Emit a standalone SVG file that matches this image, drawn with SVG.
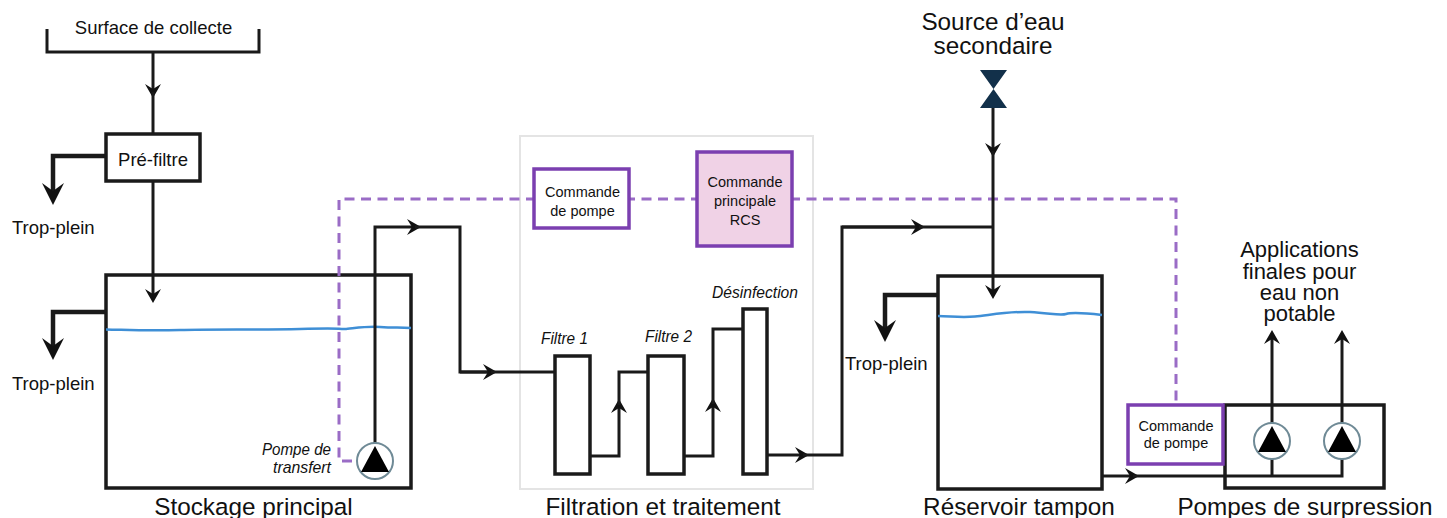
<svg xmlns="http://www.w3.org/2000/svg" width="1447" height="518" viewBox="0 0 1447 518">
<style>
text{font-family:"Liberation Sans",Arial,sans-serif;fill:#111}
.t{font-size:18.5px}
.c{font-size:14.500px;text-anchor:middle}
.i{font-size:17px;font-style:italic}
.h{font-size:24.300px;text-anchor:middle}
.a{font-size:22px;text-anchor:middle}
.b{fill:#fff;stroke:#1a1a1a;stroke-width:3.5}
.p{fill:none;stroke:#1a1a1a;stroke-width:3}
.o{fill:none;stroke:#1a1a1a;stroke-width:4.5}
.pc{fill:#fff;stroke:#7b3fb0;stroke-width:3.5}
.w{fill:none;stroke:#3f8fd6;stroke-width:2.5}
.d{fill:none;stroke:#9a6cc6;stroke-width:3;stroke-dasharray:10 6.5}
.ae{marker-end:url(#small)}
.al{marker-end:url(#large)}
</style>
<defs>
<marker id="small" markerUnits="userSpaceOnUse" markerWidth="20" markerHeight="20" refX="9" refY="10" orient="auto" viewBox="0 0 20 20"><path d="M1,2 L15,10 L1,18 L6,10 Z" fill="#111"/></marker>
<marker id="large" markerUnits="userSpaceOnUse" markerWidth="28" markerHeight="26" refX="14" refY="13" orient="auto" viewBox="0 0 28 26"><path d="M4,2 L26,13 L4,24 L12,13 Z" fill="#111"/></marker>
<g id="pump"><circle r="18" fill="#fff" stroke="#6f8a96" stroke-width="2"/><path d="M0,-15 L14,11 H-14 Z" fill="#000"/></g>
</defs>

<g id="filtration-zone"><rect x="520" y="136" width="293" height="353" fill="#fff" stroke="#e4e4e4" stroke-width="2"/></g>

<g id="tanks">
<g id="stockage"><rect class="b" x="106" y="275" width="305" height="213"/></g>
<g id="reservoir"><rect class="b" x="938" y="276" width="164" height="213"/></g>
<g id="surpression"><rect class="b" x="1225" y="405" width="159" height="83"/></g>
</g>

<g id="connectors">
<path class="d" d="M352,461 H339 V199 H1176 V404"/>
<path class="w" d="M106,329.500 C130,330 150,331 180,330 S260,330 300,329 S340,329 345,329 S365,326 380,327 S400,327 411,328"/>
<path class="w" d="M938,316 C950,316 960,318 975,316.500 S1010,311 1030,312 S1060,316 1066,314 S1085,313 1102,315"/>
<path class="p" d="M47,29 V52 H259 V29"/>
<path class="p ae" d="M153,52 V92"/><path class="p" d="M153,92 V134"/>
<path class="p ae" d="M153,181 V297"/>
<path class="o al" d="M106,156 H53 V193"/>
<path class="o al" d="M106,312 H53 V348"/>
<path class="p ae" d="M375,445 V227 H415"/><path class="p" d="M415,227 H460 V372 H490"/>
<path class="p ae" d="M460,372 H491"/><path class="p" d="M491,372 H555"/>
<path class="p ae" d="M590,456 H619 V405"/><path class="p" d="M619,405 V372 H648"/>
<path class="p ae" d="M684,456 H713 V404"/><path class="p" d="M713,404 V329 H743"/>
<path class="p ae" d="M767,455 H803"/><path class="p" d="M803,455 H842 V227 H919"/>
<path class="p ae" d="M842,227 H919"/><path class="p" d="M919,227 H993"/>
<path class="p ae" d="M993,107 V151"/><path class="p ae" d="M993,151 V293"/>
<path class="o al" d="M938,295 H885 V330"/>
<path class="p ae" d="M1102,476 H1133"/><path class="p" d="M1133,476 H1342 V458"/>
<path class="p" d="M1272,476 V458"/>
<path class="p ae" d="M1272,424 V336"/>
<path class="p ae" d="M1342,424 V336"/>
</g>

<g id="surface"><text class="t" x="153.500" y="34" text-anchor="middle">Surface de collecte</text></g>
<g id="prefiltre"><rect class="b" x="106" y="134" width="94" height="47"/><text class="t" x="153" y="166" text-anchor="middle">Pré-filtre</text></g>
<g id="overflow-labels">
<text class="t" x="12" y="234">Trop-plein</text>
<text class="t" x="12" y="390">Trop-plein</text>
<text class="t" x="845" y="370">Trop-plein</text>
</g>
<g id="pompe-transfert"><use href="#pump" x="375" y="461"/>
<text class="i" x="262" y="455" textLength="69" lengthAdjust="spacingAndGlyphs">Pompe de</text><text class="i" x="273" y="473" textLength="58" lengthAdjust="spacingAndGlyphs">transfert</text></g>
<g id="commande-pompe-1"><rect class="pc" x="534" y="169" width="95" height="59"/><text class="c" x="582.500" y="197">Commande</text><text class="c" x="582.500" y="216">de pompe</text></g>
<g id="commande-rcs"><rect x="697" y="152" width="95" height="94" fill="#f0d2e6" stroke="#7b3fb0" stroke-width="3.500"/><text class="c" x="745" y="187">Commande</text><text class="c" x="745" y="206">principale</text><text class="c" x="745" y="225">RCS</text></g>
<g id="filtre-1"><rect class="b" x="555" y="356" width="35" height="118"/><text class="i" x="541" y="344" textLength="47" lengthAdjust="spacingAndGlyphs">Filtre 1</text></g>
<g id="filtre-2"><rect class="b" x="648" y="356" width="36" height="118"/><text class="i" x="645" y="342" textLength="47" lengthAdjust="spacingAndGlyphs">Filtre 2</text></g>
<g id="desinfection"><rect class="b" x="743" y="309" width="24" height="165"/><text class="i" x="712" y="298" textLength="86" lengthAdjust="spacingAndGlyphs">Désinfection</text></g>
<g id="source"><text class="h" x="993" y="30">Source d’eau</text><text class="h" x="993" y="54">secondaire</text>
<path d="M980,70 H1007 L993.500,89 L1007,108 H980 L993.500,89 Z" fill="#12304a"/></g>
<g id="applications"><text class="a"><tspan x="1299.500" y="257">Applications</tspan><tspan x="1299.500" y="279">finales pour</tspan><tspan x="1299.500" y="299.500">eau non</tspan><tspan x="1299.500" y="321">potable</tspan></text></g>
<g id="commande-pompe-2"><rect class="pc" x="1128" y="405" width="95" height="59"/><text class="c" x="1176" y="431">Commande</text><text class="c" x="1176" y="448">de pompe</text></g>
<g id="pompes"><use href="#pump" x="1272" y="441"/><use href="#pump" x="1342" y="441"/></g>
<g id="titles">
<text class="h" x="253.500" y="515">Stockage principal</text>
<text class="h" x="663" y="515">Filtration et traitement</text>
<text class="h" x="1019" y="515">Réservoir tampon</text>
<text class="h" x="1305" y="515">Pompes de surpression</text>
</g>
</svg>
